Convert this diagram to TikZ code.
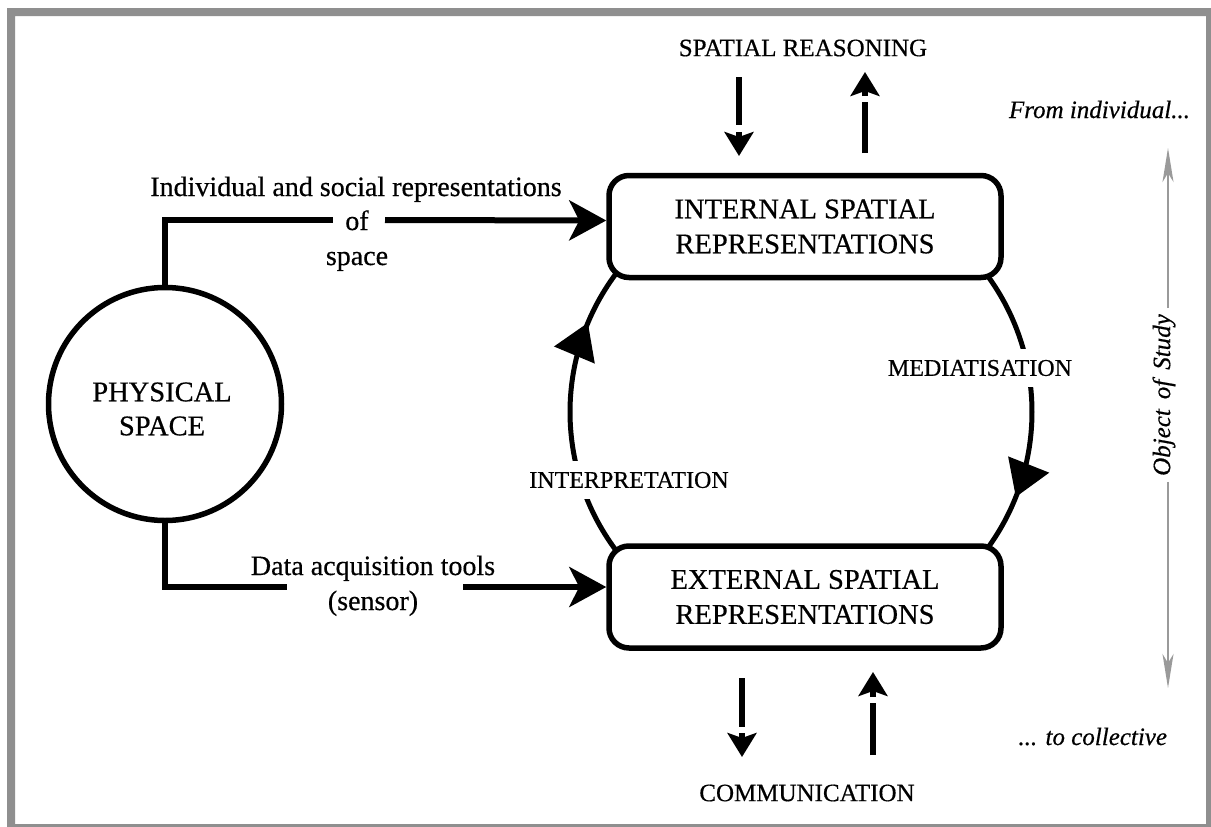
\documentclass[tikz,border=0pt]{standalone}
\usepackage{fontspec}
\setmainfont{Liberation Serif}[FakeBold=0.5]
\usetikzlibrary{arrows.meta,decorations.markings,calc}
\definecolor{framegray}{HTML}{8F8F8F}
\definecolor{arrgray}{HTML}{9A9A9A}
\begin{document}
\begin{tikzpicture}[x=1pt,y=-1pt,
  every node/.style={inner sep=0pt, outer sep=0pt},
  boxnode/.style={draw, line width=5.5pt, rounded corners=20pt, fill=white,
    minimum width=392pt, minimum height=102pt, align=center, outer sep=2.75pt,
    font=\fontsize{28.5}{35}\selectfont},
  circnode/.style={circle, draw, line width=5.5pt, fill=white, minimum size=233pt,
    outer sep=0pt},
  circtext/.style={align=center, font=\fontsize{28.5}{34}\selectfont},
  capslabel/.style={font=\fontsize{24}{28}\selectfont},
  toplabel/.style={font=\fontsize{25}{30}\selectfont},
  sidelabel/.style={font=\fontsize{28}{34}\selectfont, anchor=base},
  itlabel/.style={font=\fontsize{25}{30}\selectfont\itshape},
  thickline/.style={line width=6pt},
  bigtip/.style={-{Stealth[length=37pt,width=40pt,inset=10pt]}},
  shaftline/.style={line width=5.5pt},
  headonly/.style={line width=5.5pt, -{Stealth[length=24pt,width=29pt,inset=5pt]}},
  loopline/.style={line width=5pt},
  midarrow/.style={postaction={decorate}, decoration={markings,
    mark=at position #1 with {\arrow{Triangle[length=35pt,width=43pt]}}}},
  grayarrow/.style={arrgray, line width=2pt, -{Stealth[length=34pt,width=11pt,inset=9pt]}}
]
\useasboundingbox (0,0) rectangle (1211,827);
\fill[white] (0,0) rectangle (1211,827);
\fill[framegray, even odd rule] (7,8) rectangle (1211,827) (15,16) rectangle (1206,824);

% loop between the two boxes
\coordinate (loopc) at (801,412);
\draw[loopline, midarrow=0.784] ($(loopc)+(140:231)$) arc[start angle=140, end angle=220, radius=231];
\draw[loopline, midarrow=0.77] ($(loopc)+(-40:231)$) arc[start angle=-40, end angle=40, radius=231];
\node[capslabel, fill=white, inner ysep=11pt, inner xsep=4pt] (interp) at (629,480) {INTERPRETATION};
\node[capslabel, fill=white, inner ysep=11pt, inner xsep=4pt] (mediat) at (980,368) {MEDIATISATION};

% boxes
\node[boxnode] (int) at (805,226.5) {INTERNAL SPATIAL\\REPRESENTATIONS};
\node[boxnode] (ext) at (805,597) {EXTERNAL SPATIAL\\REPRESENTATIONS};
\node[circnode] (phys) at (165,404) {};
\node[circtext] (physlbl) at (162,409) {PHYSICAL\\SPACE};

% top: spatial reasoning
\node[toplabel] (sr) at (803,48) {SPATIAL REASONING};
\coordinate (srd1) at (739,77);  \coordinate (srd2) at (739,125);
\coordinate (srd3) at (739,132); \coordinate (srd4) at (739,156);
\coordinate (sru1) at (865,153); \coordinate (sru2) at (865,102);
\coordinate (sru3) at (865,96);  \coordinate (sru4) at (865,72);
\draw[shaftline] (srd1) -- (srd2);
\draw[headonly] (srd3) -- (srd4);
\draw[shaftline] (sru1) -- (sru2);
\draw[headonly] (sru3) -- (sru4);

% bottom: communication
\node[toplabel] (comm) at (807,793) {COMMUNICATION};
\coordinate (cmd1) at (742,678); \coordinate (cmd2) at (742,727);
\coordinate (cmd3) at (742,733); \coordinate (cmd4) at (742,757);
\coordinate (cmu1) at (873,755); \coordinate (cmu2) at (873,703);
\coordinate (cmu3) at (873,697); \coordinate (cmu4) at (873,672);
\draw[shaftline] (cmd1) -- (cmd2);
\draw[headonly] (cmd3) -- (cmd4);
\draw[shaftline] (cmu1) -- (cmu2);
\draw[headonly] (cmu3) -- (cmu4);

% left connectors
\node[sidelabel] (lab1) at (356,196) {Individual and social representations};
\node[sidelabel] (lab2) at (357,230) {of};
\node[sidelabel] (lab3) at (357,265) {space};
\coordinate (gapL1) at (333,220);
\coordinate (gapR1) at (385,220);
\draw[thickline] (phys.north) |- (gapL1);
\draw[thickline, bigtip] (gapR1) -- ([yshift=6pt]int.west);

\node[sidelabel] (lab4) at (373,575) {Data acquisition tools};
\node[sidelabel] (lab5) at (373,610) {(sensor)};
\coordinate (gapL2) at (287,587);
\coordinate (gapR2) at (463,587);
\draw[thickline] (phys.south) |- (gapL2);
\draw[thickline, bigtip] (gapR2) -- ([yshift=10pt]ext.west);

% right: object of study
\node[itlabel, anchor=base east] (fromind) at (1190,118) {From individual...};
\node[itlabel, anchor=base east] (tocoll) at (1167,745) {... to collective};
\node[itlabel, rotate=90, inner xsep=6pt] (obj) at (1164,395) {Object\hspace{0.4em}of\hspace{0.4em}Study};
\coordinate (topTip) at (1168,148);
\coordinate (botTip) at (1168,688);
\draw[grayarrow] (obj.east -| topTip) -- (topTip);
\draw[grayarrow] (obj.west -| botTip) -- (botTip);
\end{tikzpicture}
\end{document}
